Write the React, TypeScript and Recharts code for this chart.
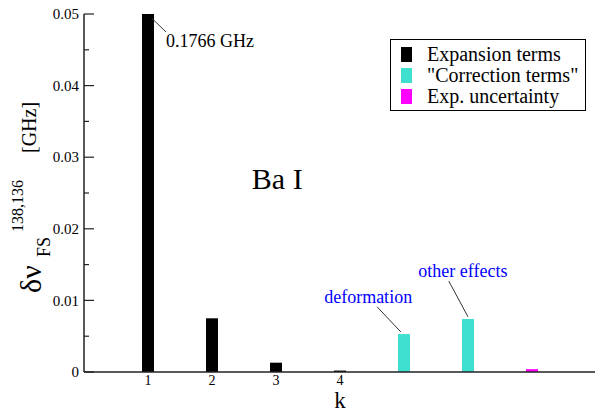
import { BarChart, Bar, XAxis, YAxis, Legend, ReferenceLine, ReferenceDot } from 'recharts';

const SERIF = '"Liberation Serif", "Times New Roman", serif';

// k = 1..4 expansion terms, 5..6 correction terms, 7 experimental uncertainty
const kValues = [1, 2, 3, 4, 5, 6, 7];
const expansionTerms = [0.1766, 0.0075, 0.0013, 0.0002, null, null, null];
const correctionTerms = [null, null, null, null, 0.0053, 0.0074, null];
const expUncertainty = [null, null, null, null, null, null, 0.0004];
const seriesNames = ['Expansion terms', '"Correction terms"', 'Exp. uncertainty'];

const xTicks = [1, 2, 3, 4];
const yTicks = [0, 0.005, 0.01, 0.015, 0.02, 0.025, 0.03, 0.035, 0.04, 0.045, 0.05];

const rows = kValues.map((k, i) => ({
  k,
  expansion: expansionTerms[i],
  correction: correctionTerms[i],
  uncertainty: expUncertainty[i],
}));

// annotations in data coordinates
const leaders = [
  [{ x: 1.06, y: 0.0494 }, { x: 1.28, y: 0.0475 }],
  [{ x: 4.58, y: 0.0091 }, { x: 4.95, y: 0.0056 }],
  [{ x: 5.7, y: 0.0127 }, { x: 6.0, y: 0.0077 }],
];
const notes = [
  { text: '0.1766 GHz', x: 1.28, y: 0.0454, color: '#000', size: 18, anchor: 'start' },
  { text: 'deformation', x: 4.44, y: 0.0096, color: '#0000ff', size: 18, anchor: 'middle' },
  { text: 'other effects', x: 5.92, y: 0.0133, color: '#0000ff', size: 18, anchor: 'middle' },
  { text: 'Ba I', x: 3.02, y: 0.0256, color: '#000', size: 30, anchor: 'middle' },
];

const isMajor = (v: number) => Math.round(v * 1000) % 10 === 0;
const fmt = (v: number) => (v === 0 ? '0' : v.toFixed(2));

const LeftTick = ({ x, y, payload }: any) => {
  const major = isMajor(payload.value);
  return (
    <g>
      <line x1={x} x2={x + (major ? 10 : 5)} y1={y} y2={y} stroke="#222" strokeWidth={1.2} />
      {major && (
        <text x={x - 5} y={y} dy="0.35em" textAnchor="end" fill="#000" fontSize={15} fontFamily={SERIF}>
          {fmt(payload.value)}
        </text>
      )}
    </g>
  );
};

const RightTick = ({ x, y, payload }: any) => {
  const major = isMajor(payload.value);
  return <line x1={x} x2={x - (major ? 10 : 5)} y1={y} y2={y} stroke="#222" strokeWidth={1.2} />;
};

const YLabel = () => (
  <g fontFamily={SERIF} fill="#000">
    <text transform="rotate(-90, 41, 293)" x={41} y={293} fontSize={30}>δν</text>
    <text transform="rotate(-90, 50, 257)" x={50} y={257} fontSize={18}>FS</text>
    <text transform="rotate(-90, 23, 232)" x={23} y={232} fontSize={16}>138,136</text>
    <text transform="rotate(-90, 36, 153)" x={36} y={153} fontSize={20}>[GHz]</text>
  </g>
);

const XLabel = ({ viewBox }: any) => (
  <text x={viewBox.x + viewBox.width / 2} y={viewBox.y + 36} textAnchor="middle" fontSize={23} fontFamily={SERIF} fill="#000">
    k
  </text>
);

const LegendBox = ({ payload }: any) => {
  const items = [...(payload || [])].sort((a: any, b: any) => seriesNames.indexOf(a.value) - seriesNames.indexOf(b.value));
  return (
    <div
      style={{
        border: '1px solid #000',
        background: '#fff',
        boxSizing: 'border-box',
        width: 196,
        height: 72,
        padding: '4px 0 0 10px',
        fontFamily: SERIF,
        fontSize: 20,
        color: '#000',
      }}
    >
      {items.map((p: any) => (
        <div key={p.value} style={{ display: 'flex', alignItems: 'center', height: 21, lineHeight: '21px' }}>
          <span style={{ display: 'inline-block', width: 11, height: 15, background: p.color, marginRight: 15 }} />
          {p.value}
        </div>
      ))}
    </div>
  );
};

export default function App() {
  return (
    <div style={{ position: 'absolute', left: 0, top: 0, width: 595, height: 415, overflow: 'hidden', background: '#fff' }}>
      <BarChart width={600} height={415} data={rows} margin={{ top: 14, right: 0, bottom: 13, left: 0 }} barSize={12}>
        <XAxis
          dataKey="k"
          type="number"
          domain={[0, 8]}
          ticks={xTicks}
          height={30}
          tickLine={false}
          tickMargin={-3}
          axisLine={{ stroke: '#222', strokeWidth: 1.5 }}
          tick={{ fill: '#000', fontSize: 14, fontFamily: SERIF }}
          label={{ content: <XLabel /> }}
        />
        <XAxis xAxisId="top" orientation="top" type="number" domain={[0, 8]} height={0} tick={false} tickLine={false} axisLine={{ stroke: '#222', strokeWidth: 1.5 }} />
        <YAxis
          type="number"
          domain={[0, 0.05]}
          allowDataOverflow
          ticks={yTicks}
          interval={0}
          width={84}
          tickSize={0}
          tickMargin={0}
          tick={<LeftTick />}
          axisLine={{ stroke: '#222', strokeWidth: 1.5 }}
          label={{ content: <YLabel /> }}
        />
        <YAxis
          yAxisId="right"
          orientation="right"
          type="number"
          domain={[0, 0.05]}
          ticks={yTicks}
          interval={0}
          width={4}
          tickSize={0}
          tickMargin={0}
          tick={<RightTick />}
          axisLine={{ stroke: '#222', strokeWidth: 1.5 }}
        />
        <Legend
          layout="horizontal"
          verticalAlign="middle"
          align="center"
          wrapperStyle={{ left: 390, top: 39, width: 196, height: 72 }}
          content={<LegendBox />}
        />
        <Bar dataKey="expansion" name={seriesNames[0]} stackId="s" fill="#000000" isAnimationActive={false} />
        <Bar dataKey="correction" name={seriesNames[1]} stackId="s" fill="#40e0d0" isAnimationActive={false} />
        <Bar dataKey="uncertainty" name={seriesNames[2]} stackId="s" fill="#ff00ff" isAnimationActive={false} />
        {leaders.map((seg, i) => (
          <ReferenceLine key={i} segment={seg} stroke="#333" strokeWidth={1} />
        ))}
        {notes.map((n) => (
          <ReferenceDot
            key={n.text}
            x={n.x}
            y={n.y}
            r={0}
            shape={(p: any) => (
              <text x={p.cx} y={p.cy} textAnchor={n.anchor} fill={n.color} fontSize={n.size} fontFamily={SERIF}>
                {n.text}
              </text>
            )}
          />
        ))}
      </BarChart>
    </div>
  );
}
